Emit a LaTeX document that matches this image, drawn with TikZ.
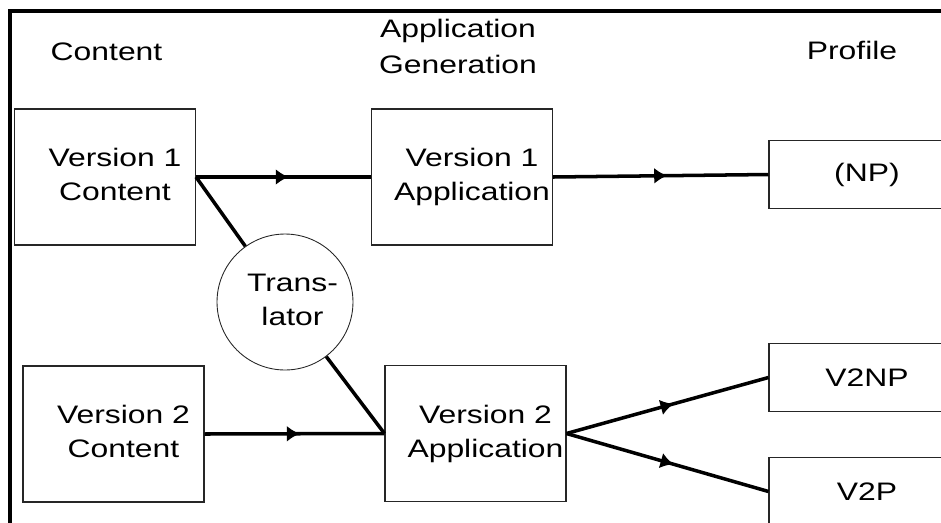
\documentclass[tikz,border=0pt]{standalone}
\usepackage{fontspec}
\setmainfont[FakeStretch=1.26]{Liberation Sans}
\usetikzlibrary{arrows.meta, decorations.markings}

% text block, set a little right of the middle of its box
\newcommand{\offtext}[2][0.4cm]{\hspace*{#1}\begin{tabular}{@{}c@{}}#2\end{tabular}}

\begin{document}
\begin{tikzpicture}[x=0.02cm, y=-0.02cm,
    >=Latex,
    txt/.style={font=\fontsize{14.4pt}{19.5pt}\selectfont, align=center},
    box/.style={txt, draw=black!85, line width=0.6pt, inner sep=0pt, minimum width=3.62cm, minimum height=2.72cm},
    profbox/.style={txt, draw=black!85, line width=0.6pt, inner sep=0pt, minimum width=3.92cm, minimum height=1.37cm},
    transl/.style={txt, draw=black!85, line width=0.5pt, circle, inner sep=0pt, minimum size=2.72cm},
    head/.style={font=\fontsize{14.4pt}{20.5pt}\selectfont, align=center},
    frame/.style={line width=1.8pt},
    link/.style={line width=2pt},
    flow/.style={link, postaction={decorate},
        decoration={markings, mark=at position 0.53 with {\arrow{Latex[length=0.26cm, width=0.32cm]}}}},
]
\useasboundingbox (0,0) rectangle (941,522);
\clip (0,0) rectangle (941,522);
\draw[frame] (10,11) rectangle (1100,700);
% column headings
\node[head] (hcont) at (106.5,52) {Content};
\node[head] (happ) at (458,46) {Application\\Generation};
\node[head] (hprof) at (852,50) {Profile};
% content and applications
\node[box] (cont1) at (105,177) {\offtext{Version 1\\Content}};
\node[box] (app1) at (462,177) {\offtext{Version 1\\Application}};
\node[box] (cont2) at (113.5,434) {\offtext{Version 2\\Content}};
\node[box] (app2) at (475.5,433.5) {\offtext{Version 2\\Application}};
\node[transl] (trans) at (285,302) {\offtext[0.3cm]{Trans-\\lator}};
% profiles (cut off at the right)
\node[profbox] (np) at (867,174.5) {(NP)};
\node[profbox] (v2np) at (867,377.5) {V2NP};
\node[profbox] (v2p) at (867,491.5) {V2P};
% connectors
\draw[flow] (cont1.east) -- (app1.west);
\draw[flow] (app1.east) -- (np.west);
\draw[flow] (cont2.east) -- (app2.west);
\draw[link] (cont1.east) -- (trans);
\draw[link] (trans) -- (app2.west);
\draw[flow] (app2.east) -- (v2np.west);
\draw[flow] (app2.east) -- (v2p.west);
\end{tikzpicture}
\end{document}
